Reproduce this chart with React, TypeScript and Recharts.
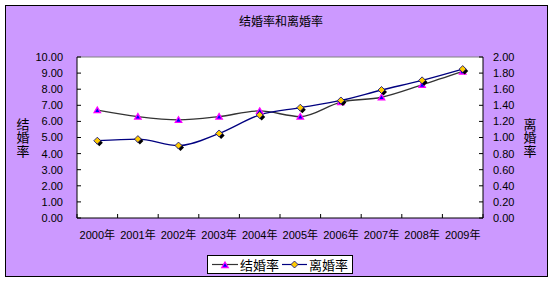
import React from 'react';
import { LineChart, Line, XAxis, YAxis, Legend, ReferenceLine, CartesianGrid } from 'recharts';

// Annual crude marriage / divorce rates (‰)
const years = ['2000年', '2001年', '2002年', '2003年', '2004年', '2005年', '2006年', '2007年', '2008年', '2009年'];
const marriageRate = [6.7, 6.3, 6.1, 6.3, 6.65, 6.3, 7.2, 7.5, 8.27, 9.1];
const divorceRate = [0.96, 0.98, 0.9, 1.05, 1.28, 1.37, 1.46, 1.59, 1.71, 1.85];
const leftTicks = [0, 1, 2, 3, 4, 5, 6, 7, 8, 9, 10];
const rightTicks = [0, 0.2, 0.4, 0.6, 0.8, 1.0, 1.2, 1.4, 1.6, 1.8, 2.0];

const TITLE = '结婚率和离婚率';
const MARRIAGE = '结婚率';
const DIVORCE = '离婚率';

// each year occupies one unit slot on a numeric x axis; points sit mid-slot
const data = years.map((year, i) => ({
  year,
  pos: i + 0.5,
  marriage: marriageRate[i],
  divorce: divorceRate[i],
}));
const slotEdges = years.map((_, i) => i).concat([years.length]);
const slotCenters = years.map((_, i) => i + 0.5);
const xTicks = [...slotEdges, ...slotCenters].sort((a, b) => a - b);

const FONT = "'Liberation Sans', 'Noto Sans CJK SC', sans-serif";
const CJK = "'Noto Sans CJK SC', sans-serif";
const BG = '#CC99FF';

const W = 554;
const H = 283;

const triangle = (cx: number, cy: number) =>
  `M${cx},${cy - 3} L${cx + 3.2},${cy + 2.5} L${cx - 3.2},${cy + 2.5} Z`;

const TriangleDot = (props: any) => {
  const { cx, cy } = props;
  if (cx == null || cy == null) return null;
  return <path d={triangle(cx, cy)} fill="#0000FF" stroke="#FF00FF" strokeWidth={1.3} />;
};

const diamond = (cx: number, cy: number, r: number) =>
  `M${cx},${cy - r} L${cx + r},${cy} L${cx},${cy + r} L${cx - r},${cy} Z`;

const DiamondDot = (props: any) => {
  const { cx, cy } = props;
  if (cx == null || cy == null) return null;
  return (
    <g>
      <path d={diamond(cx + 2, cy + 2, 3.5)} fill="#000000" />
      <path d={diamond(cx, cy, 3.5)} fill="#FFCC00" stroke="#000080" strokeWidth={0.8} />
    </g>
  );
};

const XTick = (props: any) => {
  const { x, y, payload } = props;
  const v = payload.value as number;
  if (Number.isInteger(v)) {
    return <line x1={x} x2={x} y1={y} y2={y - 4} stroke="#000" strokeWidth={1} />;
  }
  return (
    <text x={x} y={y + 21} textAnchor="middle" fontSize={11} fontFamily={FONT} fill="#000">
      {years[Math.floor(v)]}
    </text>
  );
};

// axis title written top-to-bottom, one glyph per row
const VerticalTitle = (text: string, dx: number) => (props: any) => {
  const vb = props.viewBox || {};
  const cx = vb.x + dx;
  const midY = vb.y + vb.height / 2;
  return (
    <text
      x={cx}
      y={midY}
      textAnchor="middle"
      fontSize={13}
      fontFamily={CJK}
      fill="#000"
      style={{ writingMode: 'vertical-rl' as any }}
      letterSpacing={0.5}
    >
      {text}
    </text>
  );
};

const LegendBox = () => (
  <div
    style={{
      boxSizing: 'border-box',
      width: 146,
      height: 19,
      background: '#FFFFFF',
      border: '1px solid #000',
      display: 'flex',
      alignItems: 'center',
      fontFamily: CJK,
      fontSize: 13,
      color: '#000',
      lineHeight: '17px',
      paddingLeft: 4,
    }}
  >
    <svg width={26} height={17} style={{ display: 'block' }}>
      <line x1={0} x2={26} y1={8.5} y2={8.5} stroke="#333333" strokeWidth={1.2} />
      <TriangleDot cx={13} cy={9} />
    </svg>
    <span style={{ marginLeft: 2, whiteSpace: 'nowrap' }}>{MARRIAGE}</span>
    <svg width={25} height={17} style={{ display: 'block', marginLeft: 3 }}>
      <line x1={0} x2={25} y1={8.5} y2={8.5} stroke="#000080" strokeWidth={1.2} />
      <path d={diamond(12.5, 8.5, 3.5)} fill="#FFCC00" stroke="#000080" strokeWidth={0.8} />
    </svg>
    <span style={{ marginLeft: 2, whiteSpace: 'nowrap' }}>{DIVORCE}</span>
  </div>
);

export default function App() {
  return (
    <div style={{ position: 'absolute', left: 0, top: 0, width: W, height: H, background: '#FFFFFF' }}>
      <div
        style={{
          position: 'absolute',
          left: 5,
          top: 5,
          width: 543,
          height: 272,
          boxSizing: 'border-box',
          border: '1px solid #000',
          background: BG,
        }}
      />
      <div
        style={{
          position: 'absolute',
          left: 239,
          top: 13,
          fontFamily: CJK,
          fontSize: 12,
          lineHeight: '15px',
          whiteSpace: 'nowrap',
          color: '#000',
        }}
      >
        {TITLE}
      </div>
      <div style={{ position: 'absolute', left: 0, top: 0 }}>
        <LineChart width={W} height={H} data={data} margin={{ top: 57, right: 0, bottom: 35, left: 0 }}>
          <CartesianGrid horizontal={false} vertical={false} fill="#FFFFFF" yAxisId="left" />
          <ReferenceLine yAxisId="left" y={10} stroke="#808080" strokeWidth={1} />
          <XAxis
            dataKey="pos"
            type="number"
            domain={[0, years.length]}
            ticks={xTicks}
            interval={0}
            tickLine={false}
            tickSize={0}
            tickMargin={0}
            tick={<XTick />}
            axisLine={{ stroke: '#000' }}
            height={30}
            allowDataOverflow
          />
          <YAxis
            yAxisId="left"
            orientation="left"
            width={77}
            domain={[0, 10]}
            ticks={leftTicks}
            interval={0}
            tickSize={-4}
            tickMargin={18}
            tickFormatter={(v: number) => v.toFixed(2)}
            tick={{ fill: '#000', fontSize: 11, fontFamily: FONT }}
            axisLine={{ stroke: '#000' }}
            tickLine={{ stroke: '#000' }}
            label={{ content: VerticalTitle(MARRIAGE, 23) }}
          />
          <YAxis
            yAxisId="right"
            orientation="right"
            width={71}
            domain={[0, 2]}
            ticks={rightTicks}
            interval={0}
            tickSize={-4}
            tickMargin={14}
            tickFormatter={(v: number) => v.toFixed(2)}
            tick={{ fill: '#000', fontSize: 11, fontFamily: FONT }}
            axisLine={{ stroke: '#000' }}
            tickLine={{ stroke: '#000' }}
            label={{ content: VerticalTitle(DIVORCE, 47) }}
          />
          <Legend
            layout="horizontal"
            verticalAlign="middle"
            align="center"
            width={146}
            height={19}
            wrapperStyle={{ left: 207, top: 255, width: 146, height: 19 }}
            content={<LegendBox />}
          />
          <Line
            yAxisId="left"
            type="monotone"
            dataKey="marriage"
            name={MARRIAGE}
            stroke="#333333"
            strokeWidth={1.3}
            dot={<TriangleDot />}
            activeDot={false}
            isAnimationActive={false}
          />
          <Line
            yAxisId="right"
            type="monotone"
            dataKey="divorce"
            name={DIVORCE}
            stroke="#000080"
            strokeWidth={1.3}
            dot={<DiamondDot />}
            activeDot={false}
            isAnimationActive={false}
          />
        </LineChart>
      </div>
    </div>
  );
}
